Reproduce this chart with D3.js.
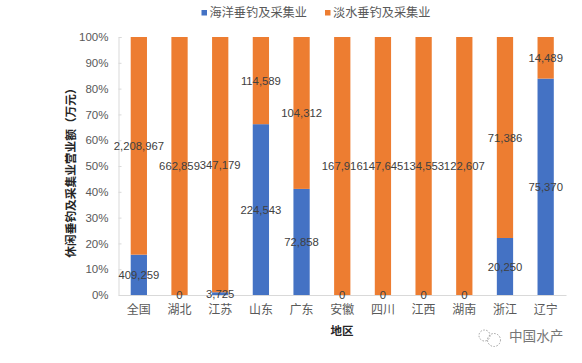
<!DOCTYPE html>
<html>
<head>
<meta charset="utf-8">
<script src="https://cdn.jsdelivr.net/npm/d3@7"></script>
<style>
  body { margin: 0; background: #fff; }
  text { font-family: "Liberation Sans", "Noto Sans CJK SC", sans-serif; }
  .cjk { font-family: "Noto Sans CJK SC", sans-serif; }
</style>
</head>
<body>
<div id="graphic"></div>
<script>
const categories = ['全国', '湖北', '江苏', '山东', '广东', '安徽', '四川', '江西', '湖南', '浙江', '辽宁'];
const marine = [409259, 0, 3725, 224543, 72858, 0, 0, 0, 0, 20250, 75370];
const freshwater = [2208967, 662859, 347179, 114589, 104312, 167916, 147645, 134553, 122607, 71386, 14489];
const seriesNames = ['海洋垂钓及采集业', '淡水垂钓及采集业'];
const seriesColors = ['#4472c4', '#ed7d31'];
const yTicks = [0, 0.1, 0.2, 0.3, 0.4, 0.5, 0.6, 0.7, 0.8, 0.9, 1];

let margin = {top: 37, right: 16, bottom: 68, left: 118.5};
let width = 582 - margin.left - margin.right;
let height = 363 - margin.top - margin.bottom;

let root = d3.select('#graphic')
  .append('svg')
    .attr('width', 582)
    .attr('height', 363)
    .style('display', 'block');

let svg = root.append('g')
    .attr('transform', 'translate(' + margin.left + ',' + margin.top + ')');

let rows = categories.map((c, i) => ({cat: c, marine: marine[i], freshwater: freshwater[i]}));
let stacked = d3.stack()
    .keys(['marine', 'freshwater'])
    .offset(d3.stackOffsetExpand)(rows);

let x = d3.scaleBand().domain(categories).range([0, width]).paddingInner(0.6).paddingOuter(0.3);
let y = d3.scaleLinear().domain([0, 1]).range([height, 0]);

// bars
stacked.forEach((s, i) => {
  svg.append('g').selectAll('rect')
    .data(s)
    .enter()
    .append('rect')
      .attr('x', d => x(d.data.cat))
      .attr('y', d => y(d[1]))
      .attr('width', x.bandwidth())
      .attr('height', d => y(d[0]) - y(d[1]))
      .attr('fill', seriesColors[i]);
});

// Y axis
let yAxis = svg.append('g')
    .call(d3.axisLeft(y).tickValues(yTicks).tickFormat(d3.format('.0%')).tickSize(-3).tickPadding(10));
yAxis.selectAll('line').attr('stroke', '#d9d9d9');
yAxis.select('.domain').attr('stroke', '#d9d9d9');
yAxis.selectAll('text').attr('fill', '#595959').style('font-size', '11.5px');

// X axis
let xAxis = svg.append('g')
    .attr('transform', 'translate(0,' + height + ')')
    .call(d3.axisBottom(x).tickSize(0).tickPadding(10));
xAxis.select('.domain').attr('stroke', '#d9d9d9');
xAxis.selectAll('text')
    .attr('class', 'cjk')
    .attr('fill', '#595959')
    .style('font-size', '12px');

// data labels
stacked.forEach(s => {
  svg.append('g').selectAll('text')
    .data(s)
    .enter()
    .append('text')
      .attr('x', d => x(d.data.cat) + x.bandwidth() / 2)
      .attr('y', d => y((d[0] + d[1]) / 2))
      .attr('dy', '0.36em')
      .attr('text-anchor', 'middle')
      .attr('fill', '#404040')
      .style('font-size', '11.3px')
      .text(d => d3.format(',')(d.data[s.key]));
});

// axis titles
root.append('text')
    .attr('class', 'cjk')
    .attr('transform', 'translate(70.5,170)rotate(-90)')
    .attr('dy', '0.36em')
    .attr('text-anchor', 'middle')
    .attr('fill', '#262626')
    .style('font-size', '11.7px')
    .style('font-weight', 700)
    .text('休闲垂钓及采集业营业额（万元）');

root.append('text')
    .attr('class', 'cjk')
    .attr('x', 342)
    .attr('y', 331)
    .attr('dy', '0.36em')
    .attr('text-anchor', 'middle')
    .attr('fill', '#262626')
    .style('font-size', '11.5px')
    .style('font-weight', 700)
    .text('地区');

// legend
let legendX = [201.5, 325];
seriesNames.forEach((name, i) => {
  root.append('rect')
      .attr('x', legendX[i])
      .attr('y', 10)
      .attr('width', 5.5)
      .attr('height', 5.5)
      .attr('fill', seriesColors[i]);
  root.append('text')
      .attr('class', 'cjk')
      .attr('x', legendX[i] + 8)
      .attr('y', 12.7)
      .attr('dy', '0.36em')
      .attr('fill', '#595959')
      .style('font-size', '12.2px')
      .text(name);
});

// watermark
let mark = root.append('g').attr('fill', 'none').attr('stroke', '#a0a0a0').attr('stroke-dasharray', '1.5 1.5');
mark.append('circle').attr('cx', 484.5).attr('cy', 335.5).attr('r', 5.5);
mark.append('circle').attr('cx', 494).attr('cy', 340).attr('r', 6.5);
root.append('text')
    .attr('class', 'cjk')
    .attr('x', 509)
    .attr('y', 336)
    .attr('dy', '0.36em')
    .attr('fill', '#777777')
    .style('font-size', '13.6px')
    .text('中国水产');
</script>
</body>
</html>
